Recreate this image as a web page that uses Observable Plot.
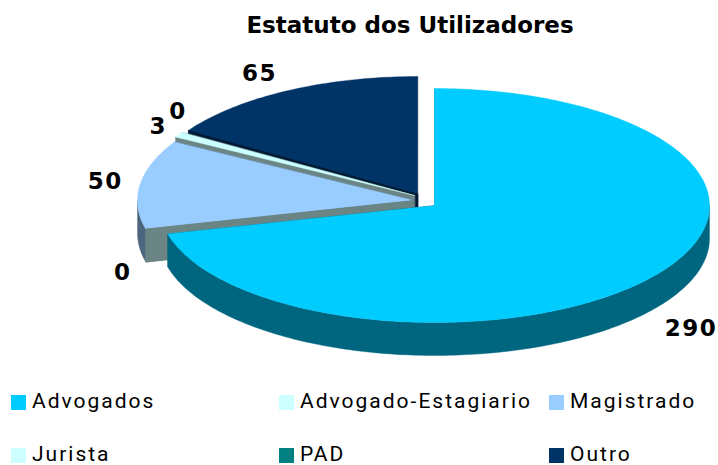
<!DOCTYPE html>
<html>
<head>
<meta charset="utf-8">
<script src="https://cdn.jsdelivr.net/npm/d3@7"></script>
<script src="https://cdn.jsdelivr.net/npm/@observablehq/plot@0.6"></script>
<style>
  html, body { margin: 0; padding: 0; background: #fff; width: 718px; height: 465px; overflow: hidden; }
  #title { height: 50px; text-align: center; font: bold 23px/50px "DejaVu Sans", sans-serif; color: #000; padding-left: 102px; box-sizing: border-box; }
  #legend { position: relative; height: 85px; font-family: Roboto, sans-serif; font-size: 21px; letter-spacing: 2px; color: #000; }
  #legend div { position: absolute; white-space: nowrap; line-height: 20px; }
  #legend span { position: absolute; width: 15px; height: 15px; top: 4px; left: -21px; }
</style>
</head>
<body>
<div id="title"></div>
<div id="chart"></div>
<div id="legend"></div>
<script>
const titleText = "Estatuto dos Utilizadores";
const categories = ["Advogados", "Advogado-Estagiario", "Magistrado", "Jurista", "PAD", "Outro"];
const values = [290, 0, 50, 3, 0, 65];
const topColors = ["#00CCFF", "#CCFFFF", "#99CCFF", "#CCFFFF", "#008080", "#003366"];
const outerWallColors = ["#006680", "#668080", "#4D6680", "#668080", "#004040", "#001A33"];
const cutWallColors = ["#006680", "#6B8585", "#4D6680", "#6B8585", "#001A33", "#001A33"];

// layout of the exploded 3D pie
const radiusX = [275, 276, 276, 276, 272, 272];
const ry = 117, depth = 33;
const centreX = [434, 413, 413, 414, 417, 417];
const centreY = [205, 200, 200, 195, 193, 193];
const labelNudgeX = [7, 17, 6, 15, 24, -8];
const labelNudgeY = [7, 6, 0, 1, -9, -2];
const legendLeft = [32, 300, 570];
const legendTop = [11, 64];
const legendOrder = [[0, 0, 0], [1, 1, 0], [2, 2, 0], [3, 0, 1], [4, 1, 1], [5, 2, 1]];

const arcs = d3.pie().sort(null).value(d => d).startAngle(0).endAngle(2 * Math.PI)(values);

const rim = (i, a) => [centreX[i] + radiusX[i] * Math.sin(a), centreY[i] - ry * Math.cos(a)];
const rimPts = (i, a0, a1) => {
  const n = Math.max(1, Math.ceil(Math.abs(a1 - a0) / (Math.PI / 180)));
  return d3.range(n + 1).map(k => rim(i, a0 + (a1 - a0) * k / n));
};
const down = p => [p[0], p[1] + depth];

const polygons = [];
const add = (pts, fill) => polygons.push({pts, fill});
const drawOrder = [4, 5, 3, 2, 1, 0];
for (const i of drawOrder) {
  const {startAngle: a0, endAngle: a1} = arcs[i];
  const apex = [centreX[i], centreY[i]];
  // outer wall: only the part of the rim that faces the viewer
  const f0 = Math.max(a0, Math.PI / 2), f1 = Math.min(a1, 3 * Math.PI / 2);
  if (f1 > f0) {
    const e = rimPts(i, f0, f1);
    add([...e, ...e.slice().reverse().map(down)], outerWallColors[i]);
  }
  // cut faces
  for (const a of [a1, a0]) {
    const p = rim(i, a);
    add([apex, p, down(p), down(apex)], cutWallColors[i]);
  }
  // top face
  if (a1 > a0) add([apex, ...rimPts(i, a0, a1)], topColors[i]);
}

const points = polygons.flatMap((poly, id) => poly.pts.map(p => ({id, x: p[0], y: p[1], fill: poly.fill})));

const labels = arcs.map((arc, i) => {
  const mid = (arc.startAngle + arc.endAngle) / 2;
  const front = Math.cos(mid) < 0;
  return {
    value: values[i],
    x: centreX[i] + radiusX[i] * 1.15 * Math.sin(mid) + labelNudgeX[i],
    y: centreY[i] - ry * 1.15 * Math.cos(mid) + (front ? depth : 0) + labelNudgeY[i]
  };
});

const chart = Plot.plot({
  width: 718,
  height: 330,
  margin: 0,
  style: {background: "#fff", overflow: "visible", letterSpacing: "1.5px"},
  x: {domain: [0, 718], range: [0, 718], axis: null},
  y: {domain: [50, 380], range: [0, 330], axis: null},
  marks: [
    Plot.line(points, {x: "x", y: "y", z: "id", fill: "fill", stroke: "fill", strokeWidth: 0.4, curve: "linear-closed"}),
    Plot.text(labels, {x: "x", y: "y", text: d => String(d.value), fontFamily: "DejaVu Sans", fontWeight: "bold", fontSize: 23, fill: "#000", textAnchor: "middle", lineAnchor: "middle"})
  ]
});
document.getElementById("chart").appendChild(chart);
document.getElementById("title").textContent = titleText;

const legend = document.getElementById("legend");
legendOrder.forEach(([i, c, r]) => {
  const item = document.createElement("div");
  item.style.left = legendLeft[c] + "px";
  item.style.top = legendTop[r] + "px";
  const sw = document.createElement("span");
  sw.style.background = topColors[i];
  item.appendChild(sw);
  item.appendChild(document.createTextNode(categories[i]));
  legend.appendChild(item);
});
</script>
</body>
</html>
